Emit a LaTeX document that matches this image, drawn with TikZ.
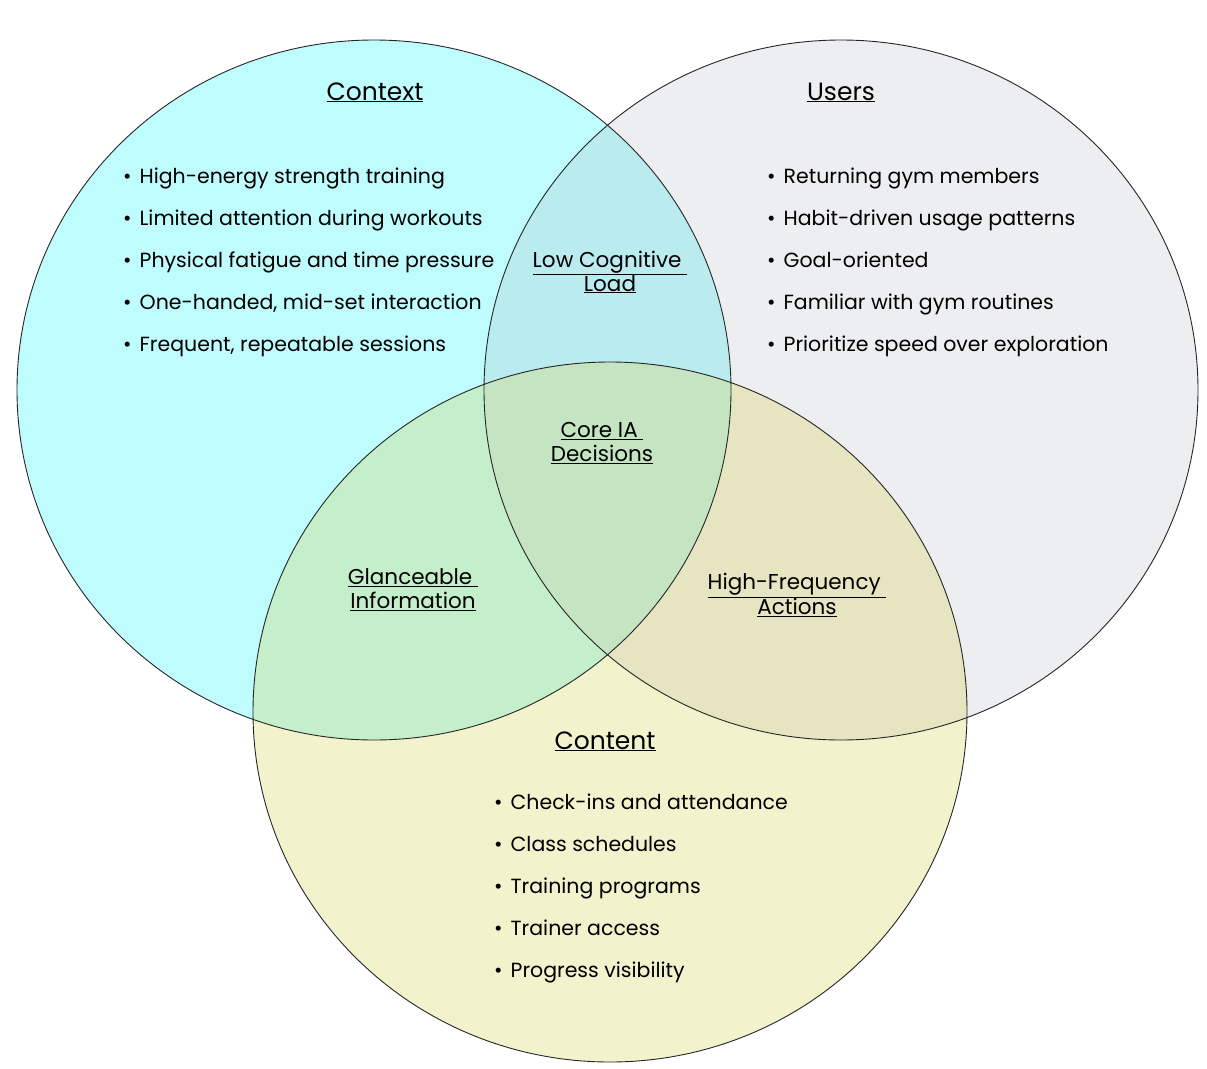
\documentclass[tikz,border=0pt]{standalone}
\usepackage{fontspec}
\setmainfont{Poppins}
\usetikzlibrary{positioning}
\definecolor{ctxCyan}{HTML}{BFFCFD}
\definecolor{usrGray}{HTML}{EDEEF0}
\definecolor{cntYellow}{HTML}{F2F2CC}
\definecolor{cuMix}{HTML}{BAEBEE}
\definecolor{ccMix}{HTML}{C4EFCA}
\definecolor{ucMix}{HTML}{E7E4C2}
\definecolor{allMix}{HTML}{C5E4C1}

% the three sets
\def\ctxset{(374,390) ellipse [x radius=357pt, y radius=350pt]}
\def\usrset{(841,390) ellipse [x radius=357pt, y radius=350pt]}
\def\cntset{(610,712) ellipse [x radius=357pt, y radius=350pt]}

\begin{document}
\begin{tikzpicture}[
    x=1pt, y=-1pt,
    ring/.style={draw=black!85, line width=0.9pt},
    settitle/.style={inner sep=0pt, anchor=base, font=\fontsize{25}{28}\selectfont},
    overlap/.style={inner sep=0pt, align=center, font=\fontsize{21.5}{24}\selectfont},
    items/.style={inner sep=0pt, anchor=base west, align=left, font=\fontsize{20.5}{42}\selectfont}
]
    \useasboundingbox (0,0) rectangle (1207,1068);

    % fills
    \fill[ctxCyan] \ctxset;
    \fill[usrGray] \usrset;
    \fill[cntYellow] \cntset;
    \begin{scope}
        \clip \ctxset;
        \fill[cuMix] \usrset;
        \fill[ccMix] \cntset;
    \end{scope}
    \begin{scope}
        \clip \usrset;
        \fill[ucMix] \cntset;
        \clip \cntset;
        \fill[allMix] \ctxset;
    \end{scope}

    % outlines
    \draw[ring] \ctxset;
    \draw[ring] \usrset;
    \draw[ring] \cntset;

    % set titles
    \node[settitle] (context) at (375,100) {\underline{Context}};
    \node[settitle] (users) at (841,100) {\underline{Users}};
    \node[settitle] (content) at (605,749) {\underline{Content}};

    % lists (anchored at the baseline of the last line)
    \node[items] (ctxlist) at (123,351) {%
        \textbullet\hspace{8pt}High-energy strength training\\
        \textbullet\hspace{8pt}Limited attention during workouts\\
        \textbullet\hspace{8pt}Physical fatigue and time pressure\\
        \textbullet\hspace{8pt}One-handed, mid-set interaction\\
        \textbullet\hspace{8pt}Frequent, repeatable sessions};
    \node[items] (usrlist) at (767,351) {%
        \textbullet\hspace{8pt}Returning gym members\\
        \textbullet\hspace{8pt}Habit-driven usage patterns\\
        \textbullet\hspace{8pt}Goal-oriented\\
        \textbullet\hspace{8pt}Familiar with gym routines\\
        \textbullet\hspace{8pt}Prioritize speed over exploration};
    \node[items] (cntlist) at (494,977) {%
        \textbullet\hspace{8pt}Check-ins and attendance\\
        \textbullet\hspace{8pt}Class schedules\\
        \textbullet\hspace{8pt}Training programs\\
        \textbullet\hspace{8pt}Trainer access\\
        \textbullet\hspace{8pt}Progress visibility};

    % overlaps
    \node[overlap] (lowload) at (610,272) {\underline{Low Cognitive\ }\\\underline{Load}};
    \node[overlap] (coreia) at (602,443) {\underline{Core IA\ }\\\underline{Decisions}};
    \node[overlap] (glance) at (413,590) {\underline{Glanceable\ }\\\underline{Information}};
    \node[overlap] (highfreq) at (797,595) {\underline{High-Frequency\ }\\\underline{Actions}};
\end{tikzpicture}
\end{document}
